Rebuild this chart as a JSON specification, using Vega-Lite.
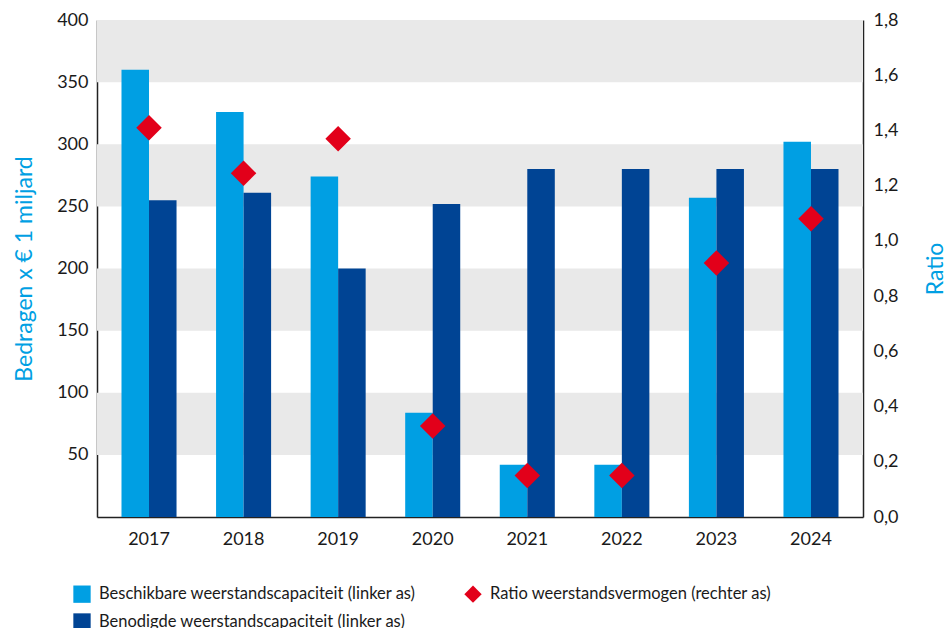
{
  "$schema": "https://vega.github.io/schema/vega-lite/v6.json",
  "width": 766,
  "height": 497,
  "autosize": {"type": "none"},
  "padding": {"left": 97, "top": 20, "right": 86, "bottom": 111},
  "background": "white",
  "config": {
    "view": {"stroke": null},
    "font": "Lato",
    "axis": {
      "labelFont": "Lato",
      "labelFontSize": 18,
      "labelColor": "#1a1a1a",
      "titleFont": "Lato",
      "titleFontSize": 23,
      "titleFontWeight": "normal",
      "titleColor": "#009fe3",
      "domainColor": "#222222",
      "domainWidth": 1.5,
      "ticks": false,
      "grid": false
    },
    "legend": {
      "labelFont": "Lato",
      "labelFontSize": 16.5,
      "labelColor": "#1a1a1a",
      "title": null,
      "orient": "none",
      "legendX": -24,
      "legendY": 565,
      "direction": "horizontal",
      "columns": 2,
      "columnPadding": 48,
      "rowPadding": 10,
      "symbolSize": 300,
      "symbolStrokeWidth": 0,
      "symbolOpacity": 1,
      "labelOffset": 8,
      "labelLimit": 450
    }
  },
  "title": {
    "text": "(Bedragen x € 1 miljard)",
    "anchor": "start",
    "frame": "group",
    "orient": "top",
    "baseline": "alphabetic",
    "fontSize": 23,
    "fontWeight": "normal",
    "color": "#777777",
    "font": "Lato",
    "dx": -97,
    "offset": 17
  },
  "datasets": {
    "bands": [
      {"lo": 350, "hi": 400},
      {"lo": 250, "hi": 300},
      {"lo": 150, "hi": 200},
      {"lo": 50, "hi": 100}
    ],
    "bars": [
      {"jaar": "2017", "reeks": "Beschikbare weerstandscapaciteit (linker as)", "waarde": 360},
      {"jaar": "2017", "reeks": "Benodigde weerstandscapaciteit (linker as)", "waarde": 255},
      {"jaar": "2018", "reeks": "Beschikbare weerstandscapaciteit (linker as)", "waarde": 326},
      {"jaar": "2018", "reeks": "Benodigde weerstandscapaciteit (linker as)", "waarde": 261},
      {"jaar": "2019", "reeks": "Beschikbare weerstandscapaciteit (linker as)", "waarde": 274},
      {"jaar": "2019", "reeks": "Benodigde weerstandscapaciteit (linker as)", "waarde": 200},
      {"jaar": "2020", "reeks": "Beschikbare weerstandscapaciteit (linker as)", "waarde": 84},
      {"jaar": "2020", "reeks": "Benodigde weerstandscapaciteit (linker as)", "waarde": 252},
      {"jaar": "2021", "reeks": "Beschikbare weerstandscapaciteit (linker as)", "waarde": 42},
      {"jaar": "2021", "reeks": "Benodigde weerstandscapaciteit (linker as)", "waarde": 280},
      {"jaar": "2022", "reeks": "Beschikbare weerstandscapaciteit (linker as)", "waarde": 42},
      {"jaar": "2022", "reeks": "Benodigde weerstandscapaciteit (linker as)", "waarde": 280},
      {"jaar": "2023", "reeks": "Beschikbare weerstandscapaciteit (linker as)", "waarde": 257},
      {"jaar": "2023", "reeks": "Benodigde weerstandscapaciteit (linker as)", "waarde": 280},
      {"jaar": "2024", "reeks": "Beschikbare weerstandscapaciteit (linker as)", "waarde": 302},
      {"jaar": "2024", "reeks": "Benodigde weerstandscapaciteit (linker as)", "waarde": 280}
    ],
    "ratio": [
      {"jaar": "2017", "reeks": "Ratio weerstandsvermogen (rechter as)", "ratio": 1.41},
      {"jaar": "2018", "reeks": "Ratio weerstandsvermogen (rechter as)", "ratio": 1.245},
      {"jaar": "2019", "reeks": "Ratio weerstandsvermogen (rechter as)", "ratio": 1.37},
      {"jaar": "2020", "reeks": "Ratio weerstandsvermogen (rechter as)", "ratio": 0.33},
      {"jaar": "2021", "reeks": "Ratio weerstandsvermogen (rechter as)", "ratio": 0.15},
      {"jaar": "2022", "reeks": "Ratio weerstandsvermogen (rechter as)", "ratio": 0.15},
      {"jaar": "2023", "reeks": "Ratio weerstandsvermogen (rechter as)", "ratio": 0.92},
      {"jaar": "2024", "reeks": "Ratio weerstandsvermogen (rechter as)", "ratio": 1.08}
    ]
  },
  "layer": [
    {
      "data": {"name": "bands"},
      "mark": {"type": "rect", "color": "#e9e9e9"},
      "encoding": {
        "y": {"field": "lo", "type": "quantitative", "scale": {"domain": [0, 400], "nice": false}, "axis": null},
        "y2": {"field": "hi"}
      }
    },
    {
      "data": {"name": "bars"},
      "mark": {"type": "bar"},
      "encoding": {
        "x": {
          "field": "jaar",
          "type": "nominal",
          "title": null,
          "scale": {"paddingInner": 0.418, "paddingOuter": 0.259},
          "axis": {"labelAngle": 0, "labelPadding": 13, "labelFontSize": 18, "domain": true}
        },
        "xOffset": {
          "field": "reeks",
          "type": "nominal",
          "sort": ["Beschikbare weerstandscapaciteit (linker as)", "Benodigde weerstandscapaciteit (linker as)"],
          "scale": {"paddingInner": 0, "paddingOuter": 0}
        },
        "y": {
          "field": "waarde",
          "type": "quantitative",
          "scale": {"domain": [0, 400], "nice": false},
          "axis": {
            "title": "Bedragen x € 1 miljard",
            "values": [50, 100, 150, 200, 250, 300, 350, 400],
            "labelPadding": 9,
            "titlePadding": 20,
            "orient": "left"
          }
        },
        "color": {
          "field": "reeks",
          "type": "nominal",
          "scale": {
            "domain": ["Beschikbare weerstandscapaciteit (linker as)", "Ratio weerstandsvermogen (rechter as)", "Benodigde weerstandscapaciteit (linker as)"],
            "range": ["#009fe3", "#e2001a", "#004494"]
          }
        }
      }
    },
    {
      "data": {"name": "ratio"},
      "mark": {"type": "point", "filled": true, "size": 650, "opacity": 1},
      "encoding": {
        "x": {"field": "jaar", "type": "nominal", "title": null},
        "y": {
          "field": "ratio",
          "type": "quantitative",
          "scale": {"domain": [0, 1.8], "nice": false},
          "axis": {
            "title": "Ratio",
            "orient": "right",
            "values": [0, 0.2, 0.4, 0.6, 0.8, 1.0, 1.2, 1.4, 1.6, 1.8],
            "labelExpr": "replace(format(datum.value, '.1f'), '.', ',')",
            "labelPadding": 10,
            "titleAngle": -90,
            "titlePadding": 50
          }
        },
        "color": {
          "field": "reeks",
          "type": "nominal",
          "scale": {
            "domain": ["Beschikbare weerstandscapaciteit (linker as)", "Ratio weerstandsvermogen (rechter as)", "Benodigde weerstandscapaciteit (linker as)"],
            "range": ["#009fe3", "#e2001a", "#004494"]
          }
        },
        "shape": {
          "field": "reeks",
          "type": "nominal",
          "scale": {
            "domain": ["Beschikbare weerstandscapaciteit (linker as)", "Ratio weerstandsvermogen (rechter as)", "Benodigde weerstandscapaciteit (linker as)"],
            "range": ["square", "diamond", "square"]
          }
        }
      }
    }
  ],
  "resolve": {"scale": {"y": "independent"}}
}
